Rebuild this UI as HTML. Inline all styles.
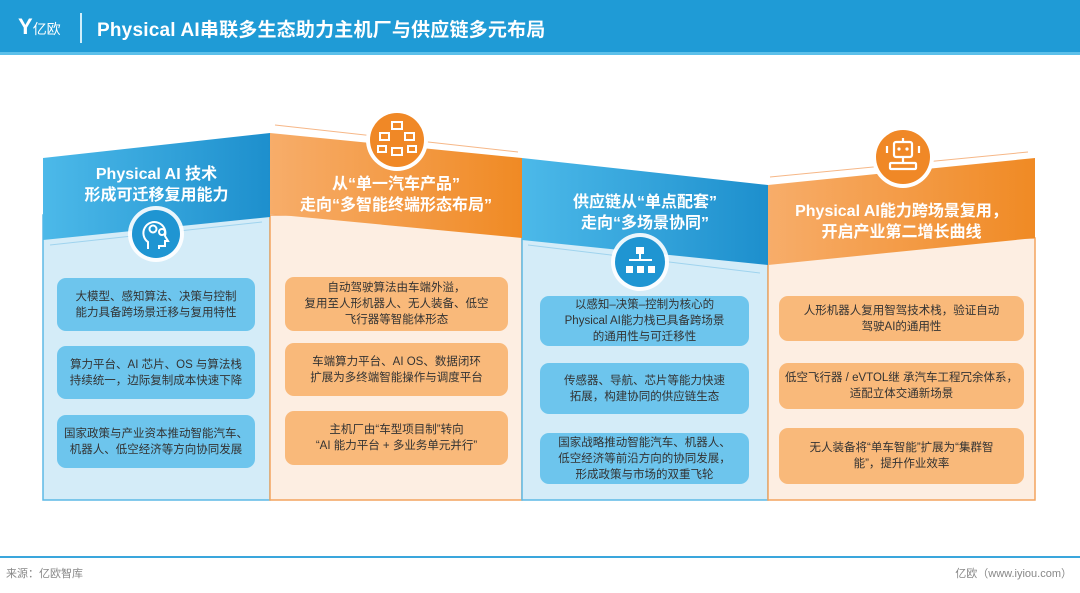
<!DOCTYPE html>
<html><head><meta charset="utf-8"><style>
*{margin:0;padding:0;box-sizing:border-box}
body{width:1080px;height:593px;position:relative;background:#fff;font-family:"Liberation Sans","Noto Sans CJK SC",sans-serif;overflow:hidden}
.top{position:absolute;left:0;top:0;width:1080px;height:55px;background:#1f9bd6;border-bottom:3px solid #5cc0ea}
.title{position:absolute;left:97px;top:15px;color:#fff;font-size:19px;font-weight:bold;letter-spacing:0.2px}
.logo{position:absolute;left:18px;top:14px;color:#fff;font-size:14px}
.sep{position:absolute;left:80px;top:13px;width:2px;height:30px;background:#cfeefb}
.t{position:absolute;color:#fff;font-size:16px;font-weight:bold;text-align:center;line-height:21px}
.b{position:absolute;border-radius:9px;display:flex;align-items:center;justify-content:center;text-align:center;font-size:11.5px;line-height:16px;color:#333}
.bl{background:#6dc5ed}.or{background:#f9b97a}
.foot{position:absolute;top:556px;left:0;width:1080px;border-top:2px solid #3aa6dc}
.f{position:absolute;top:565px;font-size:11px;color:#888}
</style></head><body>
<div class="top"></div>
<div class="logo"><span style="font-size:22px;font-weight:bold">Y</span>亿欧</div>
<div class="sep"></div>
<div class="title">Physical AI串联多生态助力主机厂与供应链多元布局</div>

<svg width="1080" height="593" style="position:absolute;left:0;top:0">
<defs>
<linearGradient id="gb" x1="0" x2="1" y1="0" y2="0"><stop offset="0" stop-color="#4cb9e9"/><stop offset="1" stop-color="#1d8fcd"/></linearGradient>
<linearGradient id="go" x1="0" x2="1" y1="0" y2="0"><stop offset="0" stop-color="#f7ad6a"/><stop offset="1" stop-color="#f08a24"/></linearGradient>
</defs>
<rect x="43" y="215" width="227" height="285" fill="#d4ecf8" stroke="#5db9e5" stroke-width="1.5"/>
<rect x="270" y="215" width="252" height="285" fill="#fdeee2" stroke="#f3a45e" stroke-width="1.5"/>
<rect x="522" y="238" width="246" height="262" fill="#d4ecf8" stroke="#5db9e5" stroke-width="1.5"/>
<rect x="768" y="238" width="267" height="262" fill="#fdeee2" stroke="#f3a45e" stroke-width="1.5"/>
<polygon points="43,158 270,133 270,217 43,240" fill="url(#gb)"/>
<polygon points="270,133 522,158 522,238 270,214" fill="url(#go)"/>
<polygon points="522,158 768,185 768,265 522,240" fill="url(#gb)"/>
<polygon points="768,185 1035,158 1035,238 768,265" fill="url(#go)"/>
<line x1="50" y1="245" x2="262" y2="222" stroke="#9fd3ee" stroke-width="1"/>
<line x1="275" y1="125" x2="518" y2="152" stroke="#f6b787" stroke-width="1"/>
<line x1="528" y1="245" x2="760" y2="273" stroke="#9fd3ee" stroke-width="1"/>
<line x1="770" y1="177" x2="1028" y2="152" stroke="#f6b787" stroke-width="1"/>
<circle cx="156" cy="234" r="28" fill="#fff" opacity="0.9"/><circle cx="156" cy="234" r="24" fill="#1f95d2"/>
<circle cx="397" cy="140" r="31" fill="#fff"/><circle cx="397" cy="140" r="27" fill="#f08826"/>
<circle cx="640" cy="262" r="29" fill="#fff" opacity="0.9"/><circle cx="640" cy="262" r="25" fill="#1f95d2"/>
<circle cx="903" cy="157" r="31" fill="#fff"/><circle cx="903" cy="157" r="27" fill="#f08826"/>
<path d="M148 249 v-7 a11 11 0 1 1 17 -6 l3 5 h-3 v5 h-6 v3" fill="none" stroke="#fff" stroke-width="2"/>
<circle cx="153" cy="229" r="3.5" fill="none" stroke="#fff" stroke-width="2"/><circle cx="162" cy="232" r="3" fill="none" stroke="#fff" stroke-width="2"/>
<g fill="none" stroke="#fff" stroke-width="2"><rect x="392" y="122" width="10" height="7"/><rect x="380" y="133" width="9" height="7"/><rect x="405" y="133" width="9" height="7"/><rect x="392" y="148" width="10" height="7"/><rect x="378" y="146" width="8" height="6"/><rect x="408" y="146" width="8" height="6"/></g>
<g fill="#fff"><rect x="636" y="247" width="8" height="7"/><rect x="626" y="266" width="7" height="7"/><rect x="637" y="266" width="7" height="7"/><rect x="648" y="266" width="7" height="7"/><rect x="629" y="259" width="23" height="2"/><rect x="639" y="254" width="2" height="6"/></g>
<g fill="none" stroke="#fff" stroke-width="2.2"><rect x="894" y="142" width="18" height="15" rx="2"/><line x1="903" y1="138" x2="903" y2="142"/><line x1="903" y1="157" x2="903" y2="163"/><rect x="890" y="163" width="26" height="6" rx="1"/><line x1="887" y1="146" x2="887" y2="153"/><line x1="919" y1="146" x2="919" y2="153"/></g>
<circle cx="899" cy="149" r="1.6" fill="#fff"/><circle cx="907" cy="149" r="1.6" fill="#fff"/>
</svg>

<div class="t" style="left:43px;width:227px;top:164px">Physical AI 技术<br>形成可迁移复用能力</div>
<div class="t" style="left:270px;width:252px;top:174px">从“单一汽车产品”<br>走向“多智能终端形态布局”</div>
<div class="t" style="left:522px;width:246px;top:192px">供应链从“单点配套”<br>走向“多场景协同”</div>
<div class="t" style="left:768px;width:267px;top:201px">Physical AI能力跨场景复用，<br>开启产业第二增长曲线</div>

<div class="b bl" style="left:57px;top:278px;width:198px;height:53px">大模型、感知算法、决策与控制<br>能力具备跨场景迁移与复用特性</div>
<div class="b bl" style="left:57px;top:346px;width:198px;height:53px">算力平台、AI 芯片、OS 与算法栈<br>持续统一，边际复制成本快速下降</div>
<div class="b bl" style="left:57px;top:415px;width:198px;height:53px">国家政策与产业资本推动智能汽车、<br>机器人、低空经济等方向协同发展</div>

<div class="b or" style="left:285px;top:277px;width:223px;height:54px">自动驾驶算法由车端外溢，<br>复用至人形机器人、无人装备、低空<br>飞行器等智能体形态</div>
<div class="b or" style="left:285px;top:343px;width:223px;height:53px">车端算力平台、AI OS、数据闭环<br>扩展为多终端智能操作与调度平台</div>
<div class="b or" style="left:285px;top:411px;width:223px;height:54px">主机厂由“车型项目制”转向<br>“AI 能力平台 + 多业务单元并行”</div>

<div class="b bl" style="left:540px;top:296px;width:209px;height:50px">以感知–决策–控制为核心的<br>Physical AI能力栈已具备跨场景<br>的通用性与可迁移性</div>
<div class="b bl" style="left:540px;top:363px;width:209px;height:51px">传感器、导航、芯片等能力快速<br>拓展，构建协同的供应链生态</div>
<div class="b bl" style="left:540px;top:433px;width:209px;height:51px">国家战略推动智能汽车、机器人、<br>低空经济等前沿方向的协同发展，<br>形成政策与市场的双重飞轮</div>

<div class="b or" style="left:779px;top:296px;width:245px;height:45px">人形机器人复用智驾技术栈，验证自动<br>驾驶AI的通用性</div>
<div class="b or" style="left:779px;top:363px;width:245px;height:46px">低空飞行器 / eVTOL继 承汽车工程冗余体系，<br>适配立体交通新场景</div>
<div class="b or" style="left:779px;top:428px;width:245px;height:56px">无人装备将“单车智能”扩展为“集群智<br>能”，提升作业效率</div>

<div class="foot"></div>
<div class="f" style="left:6px">来源：亿欧智库</div>
<div class="f" style="right:8px">亿欧（www.iyiou.com）</div>
</body></html>
